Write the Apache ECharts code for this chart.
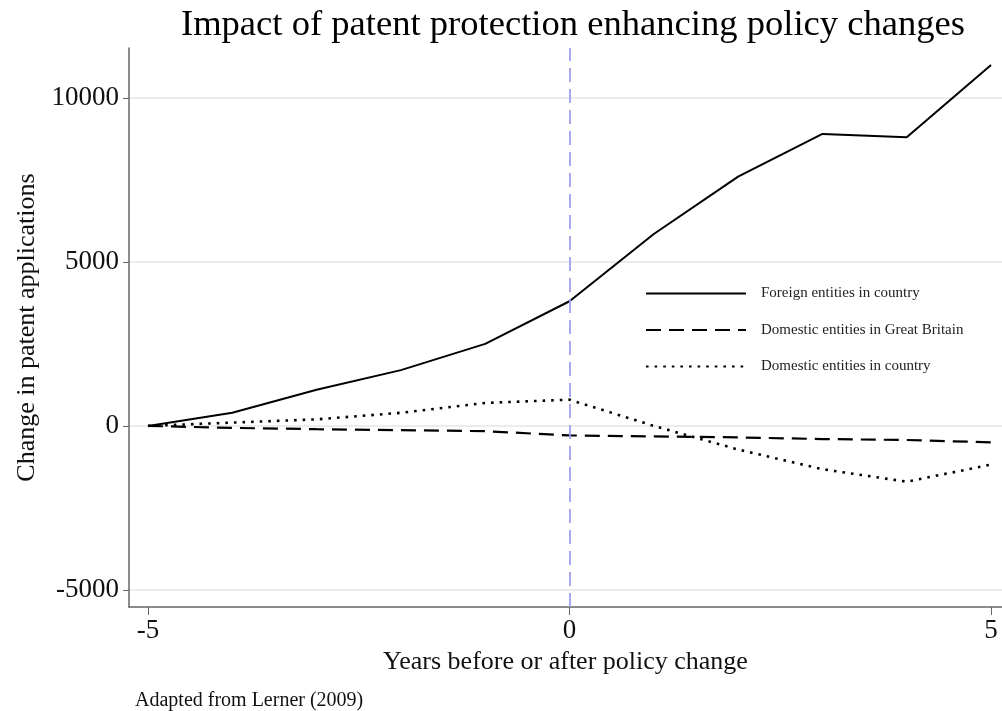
<!DOCTYPE html>
<html><head><meta charset="utf-8">
<script src="https://cdn.jsdelivr.net/npm/echarts@6/dist/echarts.min.js"></script>
<style>html,body{margin:0;padding:0;background:#fff}#c{width:1002px;height:711px}</style>
</head><body><div id="c"></div>
<script>
const years = [-5,-4,-3,-2,-1,0,1,2,3,4,5];
const foreign = [0,400,1100,1700,2500,3800,5850,7600,8900,8800,11000];
const domesticGB = [0,-60,-100,-130,-160,-290,-320,-350,-400,-430,-500];
const domesticCountry = [0,100,200,400,700,800,0,-720,-1320,-1700,-1180];
const xTicks = [-5,0,5];
const yTicks = [-5000,0,5000,10000];
const seriesNames = ['Foreign entities in country','Domestic entities in Great Britain','Domestic entities in country'];

const font = '"Liberation Serif", "DejaVu Serif", serif';
const chart = echarts.init(document.getElementById('c'), null, {renderer:'canvas'});
const pair = arr => years.map((y,i)=>[y,arr[i]]);
chart.setOption({
  animation:false,
  backgroundColor:'#fff',
  title:{text:'Impact of patent protection enhancing policy changes',left:568,top:2,textAlign:'center',
    textStyle:{fontFamily:font,fontSize:36.6,fontWeight:'normal',color:'#000'}},
  grid:{left:129,right:0,top:48,bottom:104,containLabel:false},
  legend:{orient:'vertical',left:640,top:281,itemGap:21.5,itemWidth:100,itemHeight:14,
    data:seriesNames,itemStyle:{opacity:0},
    textStyle:{fontFamily:font,fontSize:15,color:'#222',padding:[0,0,0,10]}},
  graphic:[{type:'text',left:135,top:691,style:{text:'Adapted from Lerner (2009)',font:'20px '+font,fill:'#111'}}],
  xAxis:{type:'value',min:-5.225,max:5.13,
    name:'Years before or after policy change',nameLocation:'middle',nameGap:42,
    nameTextStyle:{fontFamily:font,fontSize:26,color:'#111'},
    axisLine:{onZero:false,lineStyle:{color:'#666',width:1.5}},
    axisTick:{customValues:xTicks,length:8,inside:false,lineStyle:{color:'#666'}},
    axisLabel:{customValues:xTicks,fontFamily:font,fontSize:27,color:'#111',margin:10,formatter:v=>String(v)},
    splitLine:{show:false}},
  yAxis:{type:'value',min:-5520,max:11520,
    name:'Change in patent applications',nameLocation:'middle',nameGap:88,
    nameTextStyle:{fontFamily:font,fontSize:26,color:'#111'},
    axisLine:{show:true,onZero:false,lineStyle:{color:'#666',width:1.5}},
    axisTick:{show:true,customValues:yTicks,length:6,lineStyle:{color:'#666'}},
    axisLabel:{customValues:yTicks,fontFamily:font,fontSize:27,color:'#111',margin:10,formatter:v=>String(v)},
    splitLine:{show:true,lineStyle:{color:'#e6e6e6',width:1.5}}},
  series:[
    {name:seriesNames[0],type:'line',data:pair(foreign),showSymbol:false,symbol:'none',
      lineStyle:{color:'#000',width:2,type:'solid'},itemStyle:{color:'#000'},
      markLine:{symbol:'none',silent:true,label:{show:false},
        lineStyle:{color:'#a0a0ee',type:[14,7],width:1.8},data:[{xAxis:0}]}},
    {name:seriesNames[1],type:'line',data:pair(domesticGB),showSymbol:false,symbol:'none',
      lineStyle:{color:'#000',width:2.2,type:[15,8]},itemStyle:{color:'#000'}},
    {name:seriesNames[2],type:'line',data:pair(domesticCountry),showSymbol:false,symbol:'none',
      lineStyle:{color:'#000',width:2.6,type:[2.6,6]},itemStyle:{color:'#000'}}
  ]
});
</script></body></html>
